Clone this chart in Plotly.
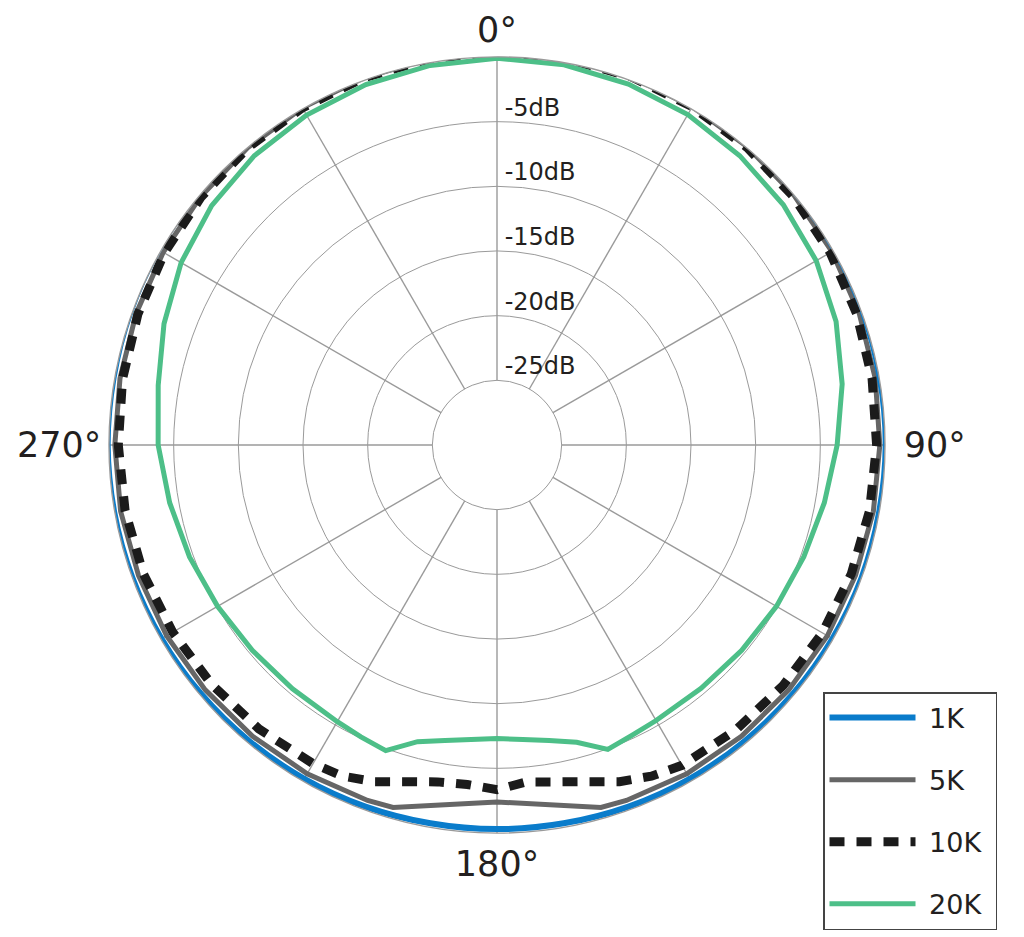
import plotly.graph_objects as go

# ---- data (dB vs angle in degrees) ----
theta_1k = [0, 10, 20, 30, 40, 50, 60, 70, 80, 90, 100, 110, 120, 130, 140, 150, 160, 170, 180,
            190, 200, 210, 220, 230, 240, 250, 260, 270, 280, 290, 300, 310, 320, 330, 340, 350, 360]
r_1k = [0.4, 0.4, 0.35, 0.3, 0.25, 0.2, 0.15, 0.1, 0.05, 0.05, 0.0, 0.0, -0.05, -0.1, -0.15, -0.2, -0.25, -0.3, -0.3,
        -0.3, -0.25, -0.2, -0.15, -0.1, -0.05, 0.0, 0.05, 0.1, 0.1, 0.15, 0.2, 0.25, 0.3, 0.35, 0.4, 0.4, 0.4]

theta_5k = [0, 10, 20, 30, 40, 50, 60, 70, 80, 90, 100, 110, 120, 130, 140, 150, 160, 164, 180, 196,
            200, 210, 220, 230, 240, 250, 260, 270, 280, 290, 300, 310, 320, 330, 340, 350, 360]
r_5k = [0.4, 0.35, 0.3, 0.2, 0.1, 0.0, -0.1, -0.2, -0.3, -0.4, -0.45, -0.5, -0.5, -0.55, -0.6, -0.65, -0.75, -0.85, -2.4, -0.85,
        -0.75, -0.65, -0.6, -0.55, -0.5, -0.5, -0.45, -0.45, -0.4, -0.3, -0.2, -0.1, 0.0, 0.1, 0.2, 0.3, 0.4]

theta_10k = [0, 10, 20, 30, 40, 50, 60, 70, 80, 90, 100, 110, 120, 130, 140, 150, 155, 160, 165, 170, 175, 180,
             185, 190, 195, 200, 205, 210, 220, 230, 240, 250, 260, 270, 280, 290, 300, 310, 320, 330, 340, 350, 360]
r_10k = [0.4, 0.35, 0.3, 0.2, 0.05, -0.1, -0.25, -0.4, -0.55, -0.65, -0.75, -0.85, -0.95, -1.1, -1.25, -1.4, -1.75, -2.3, -3.05, -3.55, -3.85, -3.35,
         -3.65, -3.55, -3.05, -2.3, -1.75, -1.55, -1.35, -1.2, -1.05, -0.9, -0.8, -0.72, -0.6, -0.45, -0.3, -0.15, 0.0, 0.1, 0.2, 0.3, 0.4]

theta_20k = [0, 10, 20, 30, 40, 50, 60, 70, 80, 90, 100, 110, 120, 130, 140, 150, 155, 160, 165, 170, 175, 180,
             185, 190, 195, 200, 205, 210, 220, 230, 240, 250, 260, 270, 280, 290, 300, 310, 320, 330, 340, 350, 360]
r_20k = [-0.1, -0.15, -0.3, -0.5, -0.8, -1.1, -1.5, -2.1, -2.9, -3.7, -4.3, -4.75, -5.05, -5.3, -5.45, -5.4, -5.25, -4.95, -6.2, -6.8, -7.15, -7.3,
         -7.15, -6.8, -6.25, -4.85, -5.1, -5.3, -5.4, -5.3, -5.05, -4.7, -4.3, -3.8, -3.4, -2.6, -1.8, -1.2, -0.8, -0.55, -0.35, -0.2, -0.1]

ring_values = [-25, -20, -15, -10, -5]
ring_labels = ["-25dB", "-20dB", "-15dB", "-10dB", "-5dB"]
spoke_angles = [0, 30, 60, 90, 120, 150, 180, 210, 240, 270, 300, 330]
angle_ticks = [0, 90, 180, 270]
angle_labels = ["0°", "90°", "180°", "270°"]
series_names = ["1K", "5K", "10K", "20K"]

FONT = "DejaVu Sans"
GRID = "#9a9a9a"
NB = "\u00a0"

fig = go.Figure()

# spokes from -25 dB ring to the outer ring
sp_t, sp_r = [], []
for a in spoke_angles:
    sp_t += [a, a, None]
    sp_r += [ring_values[0], 0, None]
fig.add_trace(go.Scatterpolar(theta=sp_t, r=sp_r, mode="lines",
                              line=dict(color=GRID, width=1.4),
                              showlegend=False, hoverinfo="skip"))

# ring labels
fig.add_trace(go.Scatterpolar(theta=[0] * len(ring_values), r=ring_values, mode="text",
                              text=[NB + t for t in ring_labels], textposition="top right",
                              textfont=dict(family=FONT, size=24, color="#231f20"),
                              showlegend=False, hoverinfo="skip"))

fig.add_trace(go.Scatterpolar(theta=theta_5k, r=r_5k, mode="lines", name=NB + series_names[1] + NB,
                              line=dict(color="#666666", width=5), legendrank=2,
                              legendgroup="b", cliponaxis=False))
fig.add_trace(go.Scatterpolar(theta=theta_1k, r=r_1k, mode="lines", name=NB + series_names[0] + NB,
                              line=dict(color="#0a7ccb", width=6, shape="spline"), legendrank=1,
                              legendgroup="a", cliponaxis=False))
fig.add_trace(go.Scatterpolar(theta=theta_10k, r=r_10k, mode="lines", name=NB + series_names[2] + NB,
                              line=dict(color="#1b1b1b", width=9, dash="15px,12px"), legendrank=3,
                              legendgroup="c", cliponaxis=False))
fig.add_trace(go.Scatterpolar(theta=theta_20k, r=r_20k, mode="lines", name=NB + series_names[3] + NB,
                              line=dict(color="#4dbf88", width=5), legendrank=4,
                              legendgroup="d", cliponaxis=False))

W, H = 1024, 937
OFF = 8  # page body margin offset
fig.update_layout(
    width=W, height=H,
    margin=dict(l=0, r=0, t=0, b=0, autoexpand=False),
    paper_bgcolor="white",
    plot_bgcolor="white",
    font=dict(family=FONT, color="#231f20"),
    polar=dict(
        domain=dict(x=[(109 - OFF) / W, (885 - OFF) / W],
                    y=[(H - 833 + OFF) / H, (H - 57 + OFF) / H]),
        bgcolor="white",
        radialaxis=dict(range=[-30, 0], tickvals=ring_values, showticklabels=False,
                        ticks="", showline=False, gridcolor=GRID, gridwidth=1.4),
        angularaxis=dict(rotation=90, direction="clockwise", tickvals=angle_ticks,
                         ticktext=[angle_labels[0], NB + angle_labels[1], angle_labels[2], angle_labels[3]],
                         showgrid=False, ticks="",
                         showline=True, linecolor=GRID, linewidth=1.4,
                         tickfont=dict(family=FONT, size=35, color="#231f20")),
    ),
    legend=dict(x=(823 - OFF) / W, y=(H - 930 + OFF) / H, xanchor="left", yanchor="bottom",
                bordercolor="#444444", borderwidth=1.5, bgcolor="white",
                font=dict(family=FONT, size=27, color="#231f20"),
                itemwidth=86, tracegroupgap=24),
)

fig.write_html("out.html")
